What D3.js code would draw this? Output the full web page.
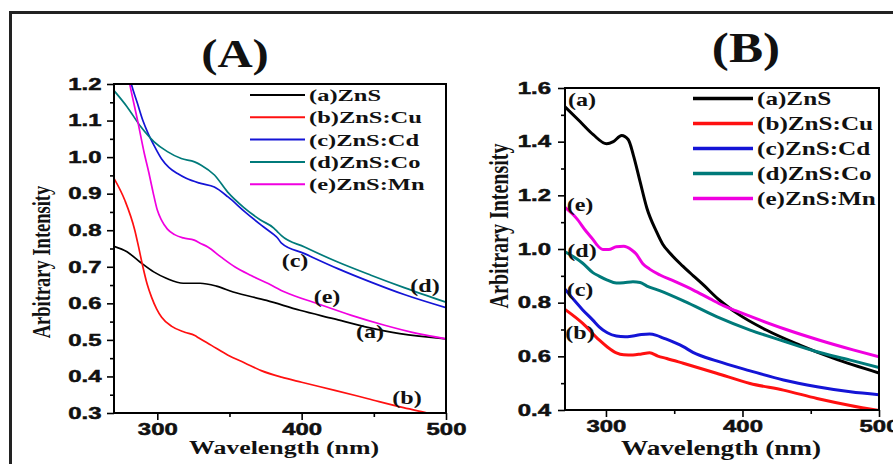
<!DOCTYPE html>
<html>
<head>
<meta charset="utf-8">
<script src="https://cdn.jsdelivr.net/npm/d3@7"></script>
<style>
  html, body { margin: 0; padding: 0; background: #fff; }
  svg { display: block; }
</style>
</head>
<body>
<svg id="fig" width="893" height="464"></svg>
<script>
// ---- shared labels ----
const wavelengthTicks = [300, 400, 500];
const wavelengthMinor = [350, 450];
const seriesNames = ["(a)ZnS", "(b)ZnS:Cu", "(c)ZnS:Cd", "(d)ZnS:Co", "(e)ZnS:Mn"];
const seriesTags = ["(a)", "(b)", "(c)", "(d)", "(e)"];
const seriesColors = ["#000000", "#ff1010", "#1414d6", "#007a7a", "#f000e0"];

// ---- panel A spectra: [wavelength (nm), intensity] ----
const znsA = [[270,0.756],[279,0.741],[288,0.713],[297.5,0.686],[306.6,0.668],[318,0.655],[329.6,0.655],[341,0.647],[352.6,0.631],[375.7,0.608],[398.8,0.581],[422,0.558],[445,0.535],[468,0.517],[500,0.503]];
const cuA  = [[270,0.942],[277.5,0.882],[284.4,0.80],[287,0.755],[290,0.70],[293,0.652],[296,0.617],[299.5,0.585],[303,0.562],[310,0.537],[319,0.521],[326,0.512],[328.5,0.506],[337.5,0.485],[349,0.458],[360.6,0.437],[372,0.416],[386,0.398],[400,0.384],[423,0.362],[446,0.339],[469,0.316],[487,0.30],[495,0.292]];
const cdA  = [[279,1.25],[282,1.20],[286,1.15],[290,1.10],[293.6,1.065],[298,1.03],[303,0.995],[308,0.972],[314,0.955],[320,0.942],[330,0.928],[339.5,0.918],[349,0.891],[360.5,0.851],[372,0.814],[381,0.787],[383,0.78],[386,0.765],[402,0.736],[425,0.695],[448,0.658],[471,0.624],[500,0.588]];
const coA  = [[270,1.182],[279,1.138],[288.6,1.083],[297.8,1.042],[307,1.015],[316.6,0.996],[325.8,0.987],[330.4,0.978],[339.6,0.951],[348.6,0.905],[360,0.862],[371.5,0.828],[380.7,0.806],[383,0.797],[386,0.785],[402,0.754],[425,0.713],[448,0.677],[471,0.643],[500,0.603]];
const mnA  = [[277,1.28],[280.9,1.20],[286.6,1.095],[291,1.01],[294,0.96],[297,0.905],[300,0.855],[303,0.827],[307,0.803],[312,0.788],[318,0.779],[325.6,0.773],[330,0.764],[335,0.754],[344,0.727],[353.6,0.70],[365,0.676],[376.8,0.654],[388.3,0.631],[411,0.599],[434.5,0.567],[457.5,0.54],[480.6,0.517],[500,0.503]];

// ---- panel B spectra ----
const znsB = [[270,1.53],[281,1.475],[290.7,1.426],[300.5,1.392],[305.4,1.40],[311.5,1.423],[316.4,1.407],[320,1.351],[325,1.251],[330,1.152],[337,1.065],[341.6,1.018],[346.8,0.985],[356.3,0.936],[364,0.900],[371,0.868],[383,0.81],[390,0.782],[395.5,0.762],[417.4,0.698],[442,0.642],[466.5,0.593],[500,0.538]];
const cuB  = [[270,0.775],[283,0.723],[295,0.661],[301,0.635],[307.6,0.613],[313,0.606],[319.8,0.605],[326,0.609],[332,0.613],[338,0.601],[344.5,0.592],[356.6,0.574],[381,0.537],[405.6,0.499],[430,0.474],[454.6,0.443],[479,0.417],[500,0.398]];
const cdB  = [[270,0.85],[283,0.773],[290.4,0.735],[295,0.71],[301,0.688],[307.6,0.676],[314,0.673],[319.8,0.676],[326,0.681],[332,0.683],[337,0.678],[341.6,0.669],[356.6,0.636],[363.7,0.615],[381,0.583],[405.6,0.546],[430,0.512],[454.6,0.487],[479,0.468],[500,0.457]];
const coB  = [[270,0.99],[283,0.947],[290.4,0.912],[295,0.899],[301,0.884],[307.6,0.873],[313,0.874],[319.8,0.878],[325,0.875],[330,0.862],[339.3,0.845],[358,0.804],[381,0.748],[405.6,0.698],[430,0.657],[454.6,0.617],[479,0.586],[500,0.558]];
const mnB  = [[270,1.155],[278.3,1.115],[285.6,1.065],[290.7,1.034],[293,1.018],[297.8,0.998],[302,0.998],[307.6,1.008],[313,1.01],[318.6,0.997],[322,0.982],[327,0.945],[332,0.925],[339.6,0.903],[350,0.88],[364,0.847],[376,0.815],[386,0.789],[395,0.77],[407.7,0.745],[432,0.70],[456.5,0.66],[481,0.624],[500,0.598]];

const yTicksA = [0.3,0.4,0.5,0.6,0.7,0.8,0.9,1.0,1.1,1.2];
const yMinorA = [0.35,0.45,0.55,0.65,0.75,0.85,0.95,1.05,1.15];
const yTicksB = [0.4,0.6,0.8,1.0,1.2,1.4,1.6];
const yMinorB = [0.5,0.7,0.9,1.1,1.3,1.5];

const SERIF = "'Liberation Serif','Times New Roman',serif";
const SANS = "'Liberation Sans',Arial,sans-serif";
const SX = 1.34;      // horizontal stretch of the serif lettering
const TICK_SX = 1.45; // horizontal stretch of the tick numbers

const svg = d3.select("#fig");

// outer frame (runs off the right and bottom edges)
svg.append("rect")
  .attr("x", 10.5).attr("y", 12.5).attr("width", 900).attr("height", 470)
  .attr("fill", "none").attr("stroke", "#222").attr("stroke-width", 3);

function stretchedText(parent, x, y, str, opts) {
  return parent.append("text")
    .attr("transform", `translate(${x},${y}) scale(${opts.sx || SX},1)`)
    .attr("text-anchor", opts.anchor || "middle")
    .attr("font-family", opts.family || SERIF)
    .attr("font-weight", "bold")
    .attr("font-size", opts.size)
    .attr("fill", "#111")
    .text(str);
}

function styleTickText(sel) {
  sel.attr("font-family", SANS).attr("font-weight", "bold").attr("font-size", 16.5)
    .attr("fill", "#111").attr("stroke", "#111").attr("stroke-width", 0.5);
}

function drawPanel(cfg) {
  const g = svg.append("g");
  const x = d3.scaleLinear().domain([270, 500]).range([cfg.left, cfg.right]);
  const y = d3.scaleLinear().domain(cfg.yDomain).range([cfg.bottom, cfg.top]);

  const clipId = "clip" + cfg.id;
  g.append("clipPath").attr("id", clipId).append("rect")
    .attr("x", cfg.left).attr("y", cfg.top)
    .attr("width", cfg.right - cfg.left).attr("height", cfg.bottom - cfg.top);

  // curves
  const line = d3.line().x(d => x(d[0])).y(d => y(d[1])).curve(d3.curveMonotoneX);
  cfg.series.forEach((s, i) => {
    g.append("path").attr("d", line(s))
      .attr("clip-path", `url(#${clipId})`)
      .attr("fill", "none").attr("stroke", seriesColors[i])
      .attr("stroke-width", cfg.lw).attr("stroke-linejoin", "round");
  });

  // axes: major + minor ticks
  const xAxis = g.append("g").attr("transform", `translate(0,${cfg.bottom})`)
    .call(d3.axisBottom(x).tickValues(wavelengthTicks).tickSize(7).tickPadding(3).tickFormat(d3.format("d")));
  g.append("g").attr("transform", `translate(0,${cfg.bottom})`)
    .call(d3.axisBottom(x).tickValues(wavelengthMinor).tickSize(4).tickFormat(""));
  const yAxis = g.append("g").attr("transform", `translate(${cfg.left},0)`)
    .call(d3.axisLeft(y).tickValues(cfg.yTicks).tickSize(7).tickFormat(d3.format(".1f")));
  g.append("g").attr("transform", `translate(${cfg.left},0)`)
    .call(d3.axisLeft(y).tickValues(cfg.yMinor).tickSize(4).tickFormat(""));

  g.selectAll(".domain").remove();
  g.selectAll(".tick line").attr("stroke", "#000").attr("stroke-width", 1.6);
  xAxis.selectAll("text").attr("transform", `scale(${TICK_SX},1)`).call(styleTickText);
  yAxis.selectAll("text").attr("transform", `scale(${TICK_SX},1)`)
    .attr("x", -cfg.yLabelGap / TICK_SX).call(styleTickText);

  // plot frame
  g.append("rect").attr("x", cfg.left).attr("y", cfg.top)
    .attr("width", cfg.right - cfg.left).attr("height", cfg.bottom - cfg.top)
    .attr("fill", "none").attr("stroke", "#000").attr("stroke-width", 2);

  // titles
  stretchedText(g, cfg.titleX, cfg.titleY, cfg.title, { size: cfg.titleSize, sx: 1.22 });
  stretchedText(g, cfg.xTitleX, cfg.xTitleY, "Wavelength (nm)", { size: cfg.xTitleSize, sx: 1.36 });
  g.append("text")
    .attr("transform", `translate(${cfg.yTitleX},${cfg.yTitleY}) scale(${SX},1) rotate(-90)`)
    .attr("text-anchor", "middle")
    .attr("font-family", SERIF).attr("font-weight", "bold")
    .attr("font-size", cfg.yTitleSize).attr("fill", "#111")
    .text("Arbitrary Intensity");

  // legend
  seriesNames.forEach((name, i) => {
    const ry = cfg.legY + i * cfg.legStep;
    g.append("line")
      .attr("x1", cfg.legX).attr("x2", cfg.legX + cfg.legLen)
      .attr("y1", ry).attr("y2", ry)
      .attr("stroke", seriesColors[i]).attr("stroke-width", cfg.lw + 0.3);
    stretchedText(g, cfg.legX + cfg.legLen + 4, ry + 6, name, { size: cfg.legSize, anchor: "start", sx: 1.4 });
  });

  // curve tags
  cfg.tags.forEach(t => {
    stretchedText(g, t[1], t[2] + 6, seriesTags[t[0]], { size: 18 });
  });
}

drawPanel({
  id: "A", left: 114, right: 446, top: 84, bottom: 413,
  yDomain: [0.3, 1.2], yTicks: yTicksA, yMinor: yMinorA, yLabelGap: 12.5,
  series: [znsA, cuA, cdA, coA, mnA], lw: 1.7,
  title: "(A)", titleX: 235, titleY: 67, titleSize: 40,
  xTitleX: 284, xTitleY: 454, xTitleSize: 19,
  yTitleX: 50, yTitleY: 262, yTitleSize: 18.5,
  legX: 250, legLen: 55, legY: 95, legStep: 22.3, legSize: 17.5,
  tags: [[2, 295, 261], [3, 425, 286], [4, 327, 297], [0, 370, 332], [1, 407, 398]]
});

drawPanel({
  id: "B", left: 565, right: 879, top: 88, bottom: 410,
  yDomain: [0.4, 1.6], yTicks: yTicksB, yMinor: yMinorB, yLabelGap: 14,
  series: [znsB, cuB, cdB, coB, mnB], lw: 3,
  title: "(B)", titleX: 746, titleY: 62, titleSize: 42,
  xTitleX: 721, xTitleY: 455, xTitleSize: 20,
  yTitleX: 508, yTitleY: 226, yTitleSize: 20,
  legX: 693, legLen: 60, legY: 98.5, legStep: 25, legSize: 18,
  tags: [[0, 582, 100], [4, 580, 205], [3, 582, 251], [2, 580, 290], [1, 580, 333]]
});
</script>
</body>
</html>
